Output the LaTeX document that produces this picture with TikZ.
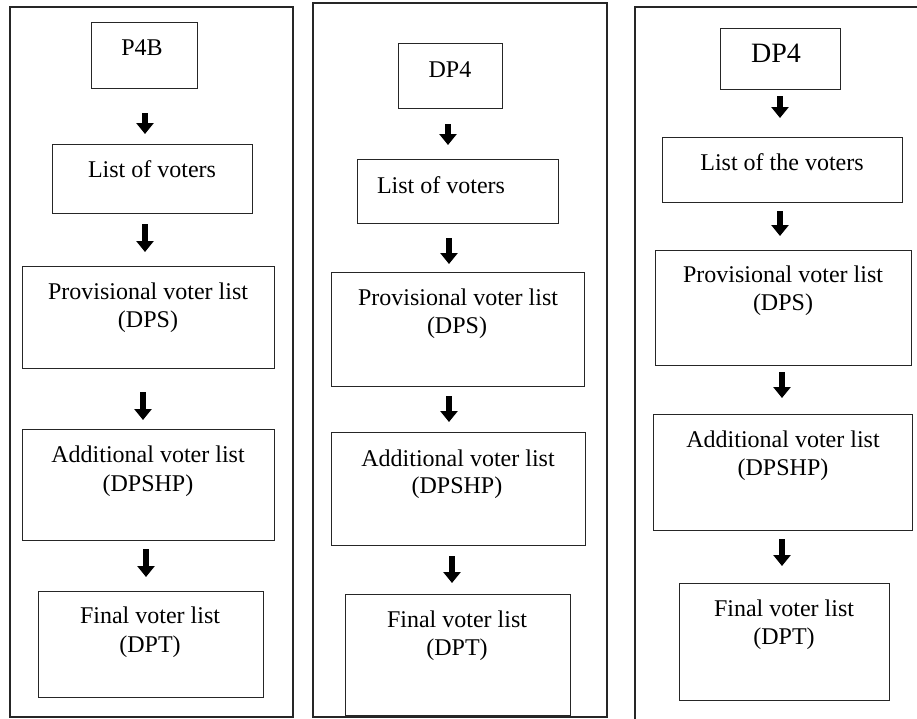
\documentclass[tikz,border=0pt]{standalone}
\usepackage{fontspec}
\setmainfont{Liberation Serif}
\usetikzlibrary{fit,arrows.meta}
\begin{document}
\begin{tikzpicture}[x=1pt,y=-1pt,
  frame/.style={draw=black!85, line width=1.2pt},
  box/.style={draw=black!85, line width=1pt, inner sep=0pt, rectangle},
  lbl/.style={inner sep=0pt, anchor=base, font=\fontsize{24}{28}\selectfont},
  biglbl/.style={inner sep=0pt, anchor=base, font=\fontsize{28}{33}\selectfont},
  flow/.style={line width=6pt, -{Triangle[width=17pt,length=11pt]}}]
\useasboundingbox (0,0) rectangle (917,718);

% ---------- column 1 ----------
\node[frame, inner sep=0pt, fit={(10,7) (293,717)}] (c1) {};
\node[box, fit={(91,22) (197,88)}]   (a1) {};
\node[box, fit={(52,144) (252,213)}] (a2) {};
\node[box, fit={(22,266) (274,368)}] (a3) {};
\node[box, fit={(22,429) (274,540)}] (a4) {};
\node[box, fit={(38,591) (263,697)}] (a5) {};
\node[lbl] (a1t)  at (142,55)  {P4B};
\node[lbl] (a2t)  at (152,177) {List of voters};
\node[lbl] (a3t)  at (148,299) {Provisional voter list};
\node[lbl] (a3u)  at (148,327) {(DPS)};
\node[lbl] (a4t)  at (148,462) {Additional voter list};
\node[lbl] (a4u)  at (148,491) {(DPSHP)};
\node[lbl] (a5t)  at (150,623) {Final voter list};
\node[lbl] (a5u)  at (150,652) {(DPT)};
\coordinate (a12s) at (145,113); \coordinate (a12e) at (145,134);
\coordinate (a23s) at (145,224); \coordinate (a23e) at (145,252);
\coordinate (a34s) at (143,392); \coordinate (a34e) at (143,420);
\coordinate (a45s) at (146,549); \coordinate (a45e) at (146,577);
\draw[flow] (a12s) -- (a12e);
\draw[flow] (a23s) -- (a23e);
\draw[flow] (a34s) -- (a34e);
\draw[flow] (a45s) -- (a45e);

% ---------- column 2 ----------
\node[frame, inner sep=0pt, fit={(313,3) (607,717)}] (c2) {};
\node[box, fit={(398,43) (502,108)}]  (b1) {};
\node[box, fit={(357,159) (558,223)}] (b2) {};
\node[box, fit={(331,272) (584,386)}] (b3) {};
\node[box, fit={(331,432) (585,545)}] (b4) {};
\node[box, fit={(345,594) (570,715)}] (b5) {};
\node[lbl] (b1t) at (450,77)  {DP4};
\node[lbl] (b2t) at (441,193) {List of voters};
\node[lbl] (b3t) at (458,305) {Provisional voter list};
\node[lbl] (b3u) at (457,333) {(DPS)};
\node[lbl] (b4t) at (458,466) {Additional voter list};
\node[lbl] (b4u) at (457,493) {(DPSHP)};
\node[lbl] (b5t) at (457,627) {Final voter list};
\node[lbl] (b5u) at (457,655) {(DPT)};
\coordinate (b12s) at (448,124); \coordinate (b12e) at (448,145);
\coordinate (b23s) at (449,238); \coordinate (b23e) at (449,264);
\coordinate (b34s) at (449,396); \coordinate (b34e) at (449,422);
\coordinate (b45s) at (452,556); \coordinate (b45e) at (452,583);
\draw[flow] (b12s) -- (b12e);
\draw[flow] (b23s) -- (b23e);
\draw[flow] (b34s) -- (b34e);
\draw[flow] (b45s) -- (b45e);

% ---------- column 3 (frame runs past the page edge) ----------
\coordinate (c3bl) at (635,730);
\coordinate (c3tl) at (635,7);
\coordinate (c3tr) at (930,7);
\draw[frame] (c3bl) -- (c3tl) -- (c3tr);
\node[box, fit={(720,28) (840,89)}]   (d1) {};
\node[box, fit={(662,137) (902,202)}] (d2) {};
\node[box, fit={(655,250) (911,365)}] (d3) {};
\node[box, fit={(653,414) (912,530)}] (d4) {};
\node[box, fit={(679,583) (889,700)}] (d5) {};
\node[biglbl] (d1t) at (776,62)  {DP4};
\node[lbl] (d2t) at (782,170) {List of the voters};
\node[lbl] (d3t) at (783,282) {Provisional voter list};
\node[lbl] (d3u) at (783,310) {(DPS)};
\node[lbl] (d4t) at (783,447) {Additional voter list};
\node[lbl] (d4u) at (783,475) {(DPSHP)};
\node[lbl] (d5t) at (784,616) {Final voter list};
\node[lbl] (d5u) at (784,644) {(DPT)};
\coordinate (d12s) at (780,96);  \coordinate (d12e) at (780,118);
\coordinate (d23s) at (780,211); \coordinate (d23e) at (780,236);
\coordinate (d34s) at (782,372); \coordinate (d34e) at (782,398);
\coordinate (d45s) at (782,539); \coordinate (d45e) at (782,566);
\draw[flow] (d12s) -- (d12e);
\draw[flow] (d23s) -- (d23e);
\draw[flow] (d34s) -- (d34e);
\draw[flow] (d45s) -- (d45e);
\end{tikzpicture}
\end{document}
